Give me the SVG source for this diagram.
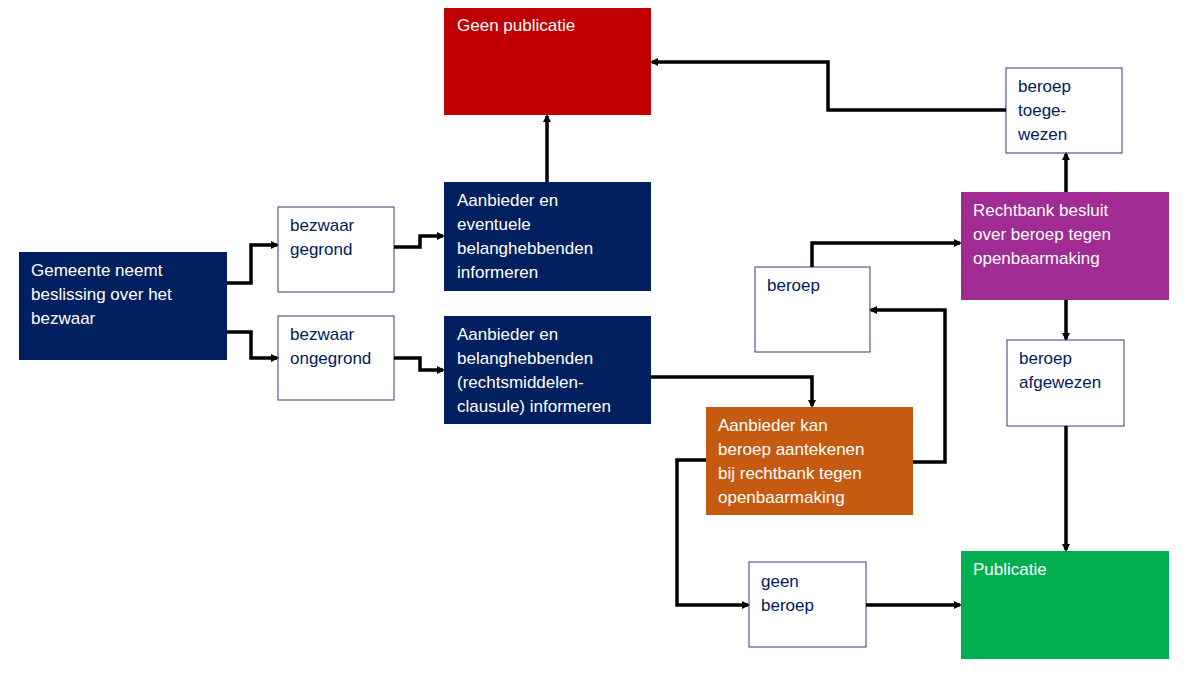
<svg xmlns="http://www.w3.org/2000/svg" width="1197" height="679" viewBox="0 0 1197 679">
<defs>
<marker id="ah" markerWidth="8" markerHeight="8" refX="6" refY="4" orient="auto" markerUnits="userSpaceOnUse" viewBox="0 0 8 8"><path d="M0,0 L8,4 L0,8 Z" fill="#000"/></marker>
<style>
text{font-family:"Liberation Sans",Arial,sans-serif;font-size:17px}
.w{fill:#fff}.n{fill:#002060}
.wb{fill:#fff;stroke:#2F3F7F;stroke-width:1}
.c{fill:none;stroke:#000;stroke-width:3.5;marker-end:url(#ah)}
</style>
</defs>
<rect width="1197" height="679" fill="#fff"/>
<g id="geen-publicatie"><rect x="444" y="8" width="207" height="107" fill="#C00000"/><text class="w" x="457" y="31">Geen publicatie</text></g>
<g id="gemeente"><rect x="19" y="252" width="208" height="108" fill="#002060"/><text class="w" x="31" y="276">Gemeente neemt</text><text class="w" x="31" y="300">beslissing over het</text><text class="w" x="31" y="324">bezwaar</text></g>
<g id="gegrond"><rect class="wb" x="278" y="207" width="116" height="85"/><text class="n" x="290" y="231">bezwaar</text><text class="n" x="290" y="255">gegrond</text></g>
<g id="ongegrond"><rect class="wb" x="278" y="316" width="116" height="84"/><text class="n" x="290" y="340">bezwaar</text><text class="n" x="290" y="364">ongegrond</text></g>
<g id="informeren1"><rect x="444" y="182" width="207" height="109" fill="#002060"/><text class="w" x="457" y="206">Aanbieder en</text><text class="w" x="457" y="230">eventuele</text><text class="w" x="457" y="254">belanghebbenden</text><text class="w" x="457" y="278">informeren</text></g>
<g id="informeren2"><rect x="444" y="316" width="207" height="108" fill="#002060"/><text class="w" x="457" y="340">Aanbieder en</text><text class="w" x="457" y="364">belanghebbenden</text><text class="w" x="457" y="388">(rechtsmiddelen-</text><text class="w" x="457" y="412">clausule) informeren</text></g>
<g id="toegewezen"><rect class="wb" x="1006" y="68" width="116" height="85"/><text class="n" x="1018" y="92">beroep</text><text class="n" x="1018" y="116">toege-</text><text class="n" x="1018" y="140">wezen</text></g>
<g id="rechtbank"><rect x="961" y="192" width="208" height="108" fill="#A02B93"/><text class="w" x="973" y="216">Rechtbank besluit</text><text class="w" x="973" y="240">over beroep tegen</text><text class="w" x="973" y="264">openbaarmaking</text></g>
<g id="beroep"><rect class="wb" x="755" y="267" width="115" height="85"/><text class="n" x="767" y="291">beroep</text></g>
<g id="afgewezen"><rect class="wb" x="1007" y="340" width="117" height="86"/><text class="n" x="1019" y="364">beroep</text><text class="n" x="1019" y="388">afgewezen</text></g>
<g id="aanbieder-kan"><rect x="706" y="407" width="207" height="108" fill="#C55A11"/><text class="w" x="718" y="431">Aanbieder kan</text><text class="w" x="718" y="455">beroep aantekenen</text><text class="w" x="718" y="479">bij rechtbank tegen</text><text class="w" x="718" y="503">openbaarmaking</text></g>
<g id="geen-beroep"><rect class="wb" x="749" y="562" width="117" height="85"/><text class="n" x="761" y="587">geen</text><text class="n" x="761" y="611">beroep</text></g>
<g id="publicatie"><rect x="961" y="551" width="208" height="108" fill="#00B050"/><text class="w" x="973" y="575">Publicatie</text></g>
<g id="connectors">
<path class="c" d="M227,283 H251 V245 H277"/>
<path class="c" d="M227,332 H251 V358 H277"/>
<path class="c" d="M394,247 H420 V236 H443"/>
<path class="c" d="M394,358 H420 V370 H443"/>
<path class="c" d="M547,182 V116"/>
<path class="c" d="M1006,110 H828 V62 H652"/>
<path class="c" d="M1066,192 V154"/>
<path class="c" d="M1066,300 V339"/>
<path class="c" d="M1066,426 V550"/>
<path class="c" d="M812,267 V243 H960"/>
<path class="c" d="M913,462 H945 V310 H871"/>
<path class="c" d="M651,377 H812 V406"/>
<path class="c" d="M706,460 H677 V605 H748"/>
<path class="c" d="M866,605 H960"/>
</g>
</svg>
